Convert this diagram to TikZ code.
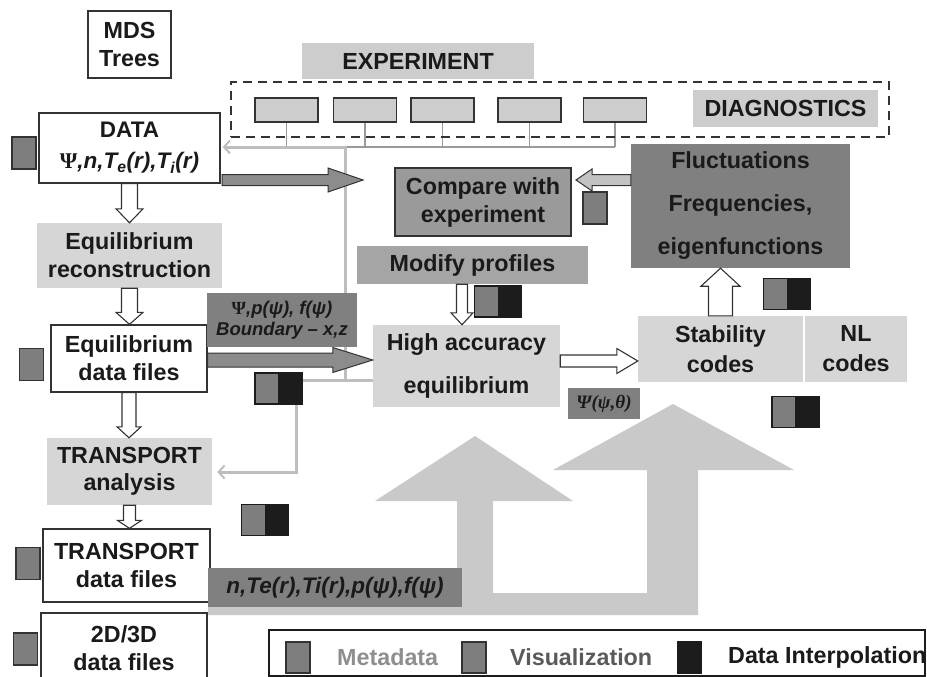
\documentclass[tikz,border=0pt]{standalone}
\usepackage{fontspec}
\setmainfont{Liberation Sans}
\newfontfamily\grk{Liberation Serif}
\usetikzlibrary{calc,arrows.meta,backgrounds}

\definecolor{txt}{HTML}{1A1A1A}
\definecolor{lightbox}{HTML}{D6D6D6}
\definecolor{lbl}{HTML}{CDCDCD}
\definecolor{midbox}{HTML}{A5A5A5}
\definecolor{cmpbox}{HTML}{9A9A9A}
\definecolor{darkbox}{HTML}{808080}
\definecolor{sqc}{HTML}{7E7E7E}
\definecolor{edge}{HTML}{333333}
\definecolor{bigarr}{HTML}{C9C9C9}
\definecolor{fbline}{HTML}{BEBEBE}
\definecolor{dline}{HTML}{9A9A9A}
\definecolor{blk}{HTML}{1C1C1C}
\definecolor{darr}{HTML}{8C8C8C}
\definecolor{larr}{HTML}{C2C2C2}
\definecolor{metatxt}{HTML}{8E8E8E}
\definecolor{vistxt}{HTML}{5A5A5A}

\newcommand\blockarrow[6]{%
  \coordinate (bab) at ($(#3)!#6!(#2)$);
  \path[#1] ($(#2)!#4!90:(#3)$) -- ($(bab)!#4!-90:(#2)$) -- ($(bab)!#5!-90:(#2)$) -- (#3)
    -- ($(bab)!#5!90:(#2)$) -- ($(bab)!#4!90:(#2)$) -- ($(#2)!#4!-90:(#3)$) -- cycle;
}

\tikzset{
  base/.style={font=\fontsize{23.3}{28}\selectfont\bfseries, text=txt, align=center, inner sep=0pt},
  sz/.style 2 args={minimum width=#1pt, minimum height=#2pt},
  wbox/.style={base, draw=edge, line width=1.3pt, fill=white},
  lbox/.style={base, fill=lightbox},
  tagbox/.style={base, fill=lbl},
  darkbox/.style={base, fill=darkbox},
  msq/.style={draw=edge, line width=1.1pt, fill=sqc, minimum width=24pt, minimum height=32pt, inner sep=0pt},
  icon/.style={draw=blk, line width=1.2pt, fill=blk, minimum width=47pt, minimum height=31pt, inner sep=0pt,
    path picture={\fill[sqc] (path picture bounding box.north west) rectangle (path picture bounding box.south);
                  \draw[blk, line width=0.8pt] (path picture bounding box.north) -- (path picture bounding box.south);}},
  diagsm/.style={draw=edge, line width=1.3pt, fill=lbl, minimum width=63pt, minimum height=24pt, inner sep=0pt},
  hollowarr/.style={fill=white, draw=edge, line width=1.1pt},
  darkarr/.style={fill=darr, draw=edge, line width=1pt},
  lightarr/.style={fill=larr, draw=edge, line width=1pt},
  fb/.style={draw=fbline, line width=3pt},
  fbtip/.style={-{Straight Barb[length=6pt,width=13pt,line width=2pt]}},
  dl/.style={draw=dline, line width=1.4pt},
}

\begin{document}
\begin{tikzpicture}[x=1pt,y=-1pt]
\useasboundingbox (0,0) rectangle (927,677);
\clip (0,0) rectangle (927,677);

% ---------- nodes ----------
\node[wbox, sz={83}{67}] (mds) at (129.5,44.5) {MDS\\Trees};
\node[tagbox, sz={232}{36}] (exp) at (418,61) {EXPERIMENT};
\node[draw=edge, line width=1.8pt, dash pattern=on 9pt off 6pt, sz={658}{55}, inner sep=0pt] (diagframe) at (560,109.5) {};
\node[diagsm] (d1) at (286.5,110) {};
\node[diagsm] (d2) at (365,110) {};
\node[diagsm] (d3) at (442.5,110) {};
\node[diagsm] (d4) at (529.5,110) {};
\node[diagsm] (d5) at (615,110) {};
\node[tagbox, sz={185}{37}] (diag) at (785.5,108.5) {DIAGNOSTICS};

\node[wbox, sz={181}{70}, font=\fontsize{22.5}{31}\selectfont\bfseries] (data) at (129.5,148)
  {DATA\\{\itshape{\grk\upshape Ψ},n,T\textsubscript{e}(r),T\textsubscript{i}(r)}};
\node[msq] (m1) at (24,153) {};

\node[lbox, sz={185}{65}] (eqrec) at (129.5,255.5) {Equilibrium\\reconstruction};
\node[wbox, sz={156}{67}] (eqdf) at (129,358.5) {Equilibrium\\data files};
\node[msq] (m2) at (31.5,364.5) {};

\node[darkbox, sz={150}{54}, font=\fontsize{18.5}{21}\selectfont\bfseries\itshape] (psilab) at (282,320)
  {{\grk\upshape Ψ},p(ψ), f(ψ)\\Boundary – x,z};

\node[base, fill=cmpbox, draw=edge, line width=1.2pt, sz={176}{68}] (cmp) at (483,202) {Compare with\\experiment};
\node[msq] (m3) at (595,208) {};
\node[base, fill=midbox, sz={231}{38}] (mod) at (472.5,265) {Modify profiles};
\node[icon] (i1) at (498,301.5) {};
\node[lbox, sz={187}{82}, font=\fontsize{23.3}{43}\selectfont\bfseries] (hae) at (466.5,366) {High accuracy\\equilibrium};

\node[darkbox, sz={219}{124}, font=\fontsize{23.3}{43}\selectfont\bfseries] (fl) at (740.5,206)
  {Fluctuations\\Frequencies,\\eigenfunctions};
\node[icon] (i2) at (787,294) {};
\node[lbox, sz={165}{66}, font=\fontsize{23.3}{30}\selectfont\bfseries] (stab) at (720.5,349) {Stability\\codes};
\node[lbox, sz={102}{66}, font=\fontsize{23.3}{30}\selectfont\bfseries] (nl) at (856,349) {NL\\codes};
\node[icon] (i3) at (795.5,412) {};
\node[darkbox, sz={72}{31}, font=\grk\fontsize{19}{20}\selectfont\bfseries\itshape] (pt) at (604,403.5) {Ψ(ψ,θ)};
\node[icon] (i4) at (278.5,388.5) {};

\node[lbox, sz={165}{67}, font=\fontsize{23.3}{27}\selectfont\bfseries] (ta) at (129.5,471.5) {TRANSPORT\\analysis};
\node[icon] (i5) at (265,520) {};
\node[wbox, sz={167}{73}] (tdf) at (126.5,565.5) {TRANSPORT\\data files};
\node[msq] (m4) at (28,563.5) {};
\node[wbox, sz={166}{70}] (d23) at (124,648) {2D/3D\\data files};
\node[msq] (m5) at (25.5,649) {};

% ---------- background: big arrows and thin lines ----------
\begin{pgfonlayer}{background}
\fill[bigarr] (208,615) -- (698,615) -- (698,470) -- (794,470) -- (673,404) -- (553,470) -- (647,470)
  -- (647,593) -- (493,593) -- (493,501) -- (573,501) -- (475,436) -- (375,501) -- (457,501)
  -- (457,593) -- (208,593) -- cycle;
\coordinate (bus) at (0,147);
\foreach \d in {d1,d2,d3,d4,d5} \draw[dl] (\d.south) -- (\d.south |- bus);
\draw[dl] (d1.south |- bus) -- (d5.south |- bus);
\coordinate (fbA) at (345,380);
\coordinate (fbB) at (345,147);
\coordinate (fbC) at (296,472);
\draw[fb] (hae.west |- fbA) -- (i4.east |- fbA);
\draw[fb, fbtip] (fbA) -- (fbB) -- ([xshift=2pt]data.east |- fbB);
\draw[fb, fbtip] (i4.south -| fbC) -- (fbC) -- ([xshift=5pt]ta.east |- fbC);
\end{pgfonlayer}

\node[darkbox, sz={254}{39}, font=\fontsize{22.5}{24}\selectfont\bfseries\itshape] (nt) at (335,587.5)
  {n,Te(r),Ti(r),p(ψ),f(ψ)};

% ---------- block arrows ----------
\blockarrow{hollowarr}{data.south}{eqrec.north}{8pt}{13.5pt}{14pt}
\blockarrow{hollowarr}{eqrec.south}{eqrec.south |- eqdf.north}{8pt}{13.5pt}{12pt}
\blockarrow{hollowarr}{eqdf.south}{eqdf.south |- ta.north}{7pt}{12pt}{11pt}
\blockarrow{hollowarr}{ta.south}{ta.south |- tdf.north}{6pt}{12pt}{8pt}
\coordinate (dA) at (222,180);
\coordinate (dB) at (363,180);
\blockarrow{darkarr}{dA}{dB}{5.5pt}{12pt}{35pt}
\coordinate (eY) at (0,360);
\blockarrow{darkarr}{eqdf.east |- eY}{hae.west |- eY}{7pt}{12.5pt}{40pt}
\coordinate (fY) at (0,180);
\coordinate (fT) at (576,180);
\blockarrow{lightarr}{fl.west |- fY}{fT}{5.5pt}{11pt}{16pt}
\coordinate (hY) at (0,361);
\blockarrow{hollowarr}{hae.east |- hY}{stab.west |- hY}{6pt}{12.5pt}{21pt}
\blockarrow{hollowarr}{stab.north}{stab.north |- fl.south}{12pt}{19.5pt}{18pt}
\coordinate (mX) at (462,0);
\blockarrow{hollowarr}{mod.south -| mX}{hae.north -| mX}{5.5pt}{11pt}{12pt}

% ---------- legend ----------
\node[draw=blk, line width=2pt, fill=white, sz={656}{46}, inner sep=0pt] (leg) at (597,653) {};
\node[msq, minimum height=31pt] (lm) at (298,657.5) {};
\node[base, text=metatxt, anchor=west] (lmt) at (337,657) {Metadata};
\node[msq, minimum height=31pt] (lv) at (474,657.5) {};
\node[base, text=vistxt, anchor=west] (lvt) at (510,657) {Visualization};
\node[msq, minimum height=31pt, fill=blk, draw=blk] (ld) at (689.5,657.5) {};
\node[base, anchor=west] (ldt) at (728,657) {Data Interpolation};
\end{tikzpicture}
\end{document}
